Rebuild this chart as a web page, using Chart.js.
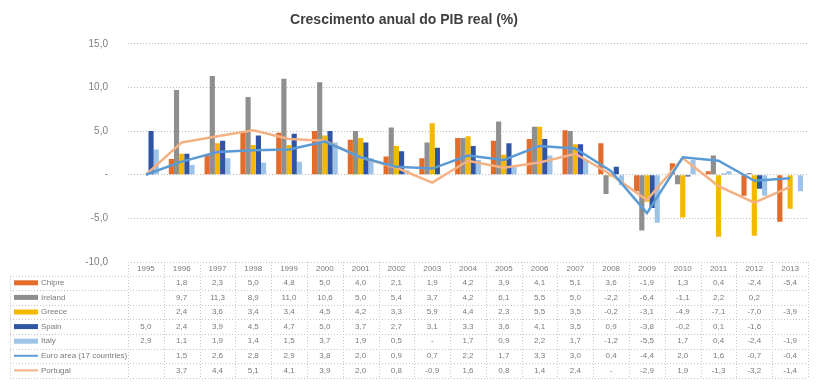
<!DOCTYPE html>
<html>
<head>
<meta charset="utf-8">
<script src="https://cdn.jsdelivr.net/npm/chart.js@4"></script>
<style>
  html, body { margin: 0; padding: 0; background: #fff; }
</style>
</head>
<body>
<canvas id="pibChart" width="827" height="390"></canvas>
<script>
var anos = ['1995','1996','1997','1998','1999','2000','2001','2002','2003','2004',
            '2005','2006','2007','2008','2009','2010','2011','2012','2013'];
var chipre   = [null, 1.8, 2.3, 5.0, 4.8, 5.0, 4.0, 2.1, 1.9, 4.2, 3.9, 4.1, 5.1, 3.6, -1.9, 1.3, 0.4, -2.4, -5.4];
var irlanda  = [null, 9.7, 11.3, 8.9, 11.0, 10.6, 5.0, 5.4, 3.7, 4.2, 6.1, 5.5, 5.0, -2.2, -6.4, -1.1, 2.2, 0.2, null];
var grecia   = [null, 2.4, 3.6, 3.4, 3.4, 4.5, 4.2, 3.3, 5.9, 4.4, 2.3, 5.5, 3.5, -0.2, -3.1, -4.9, -7.1, -7.0, -3.9];
var espanha  = [5.0, 2.4, 3.9, 4.5, 4.7, 5.0, 3.7, 2.7, 3.1, 3.3, 3.6, 4.1, 3.5, 0.9, -3.8, -0.2, 0.1, -1.6, null];
var italia   = [2.9, 1.1, 1.9, 1.4, 1.5, 3.7, 1.9, 0.5, 0, 1.7, 0.9, 2.2, 1.7, -1.2, -5.5, 1.7, 0.4, -2.4, -1.9];
var zonaEuro = [null, 1.5, 2.6, 2.8, 2.9, 3.8, 2.0, 0.9, 0.7, 2.2, 1.7, 3.3, 3.0, 0.4, -4.4, 2.0, 1.6, -0.7, -0.4];
var portugal = [null, 3.7, 4.4, 5.1, 4.1, 3.9, 2.0, 0.8, -0.9, 1.6, 0.8, 1.4, 2.4, 0, -2.9, 1.9, -1.3, -3.2, -1.4];
var yTicks   = [-10, -5, 0, 5, 10, 15];

function fmt(v) {
  if (v === null || v === undefined) return '';
  if (v === 0) return '-';
  return v.toFixed(1).replace('.', ',');
}
function semVazios(arr) {
  return arr.map(function (v) { return v === null ? 0 : v; });
}

var series = [
  { nome: 'Chipre', dados: chipre, cor: '#E46C2A', tipo: 'bar' },
  { nome: 'Ireland', dados: irlanda, cor: '#8F8F8F', tipo: 'bar' },
  { nome: 'Greece', dados: grecia, cor: '#F5B800', tipo: 'bar' },
  { nome: 'Spain', dados: espanha, cor: '#2F55A4', tipo: 'bar' },
  { nome: 'Italy', dados: italia, cor: '#9DC3E6', tipo: 'bar' },
  { nome: 'Euro area (17 countries)', dados: zonaEuro, cor: '#5B9BD5', tipo: 'line' },
  { nome: 'Portugal', dados: portugal, cor: '#F4B183', tipo: 'line' }
];

var datasets = series.map(function (s) {
  if (s.tipo === 'bar') {
    return { type: 'bar', label: s.nome, data: s.dados, backgroundColor: s.cor,
             borderWidth: 0, order: 2, barPercentage: 1.0, categoryPercentage: 0.72 };
  }
  return { type: 'line', label: s.nome, data: semVazios(s.dados), borderColor: s.cor,
           backgroundColor: s.cor, borderWidth: 2.5, pointRadius: 0, tension: 0, order: 1 };
});

var tabelaPlugin = {
  id: 'tabela',
  afterDraw: function (chart) {
    var ctx = chart.ctx;
    var area = chart.chartArea;
    var xs = chart.scales.x;
    var colW = (area.right - area.left) / anos.length;
    var topo = area.bottom;
    var hdrH = 13.5;
    var rowH = 14.6;
    var fundo = topo + hdrH + rowH * series.length;
    var esq = 10;

    ctx.save();
    ctx.strokeStyle = '#c4c4c4';
    ctx.lineWidth = 1;
    ctx.setLineDash([1, 2]);

    // linhas horizontais
    ctx.beginPath();
    ctx.moveTo(area.left, topo + 0.5);
    ctx.lineTo(area.right, topo + 0.5);
    for (var r = 0; r <= series.length; r++) {
      var yy = Math.round(topo + hdrH + r * rowH) + 0.5;
      ctx.moveTo(esq, yy);
      ctx.lineTo(area.right, yy);
    }
    // linhas verticais
    for (var c = 0; c <= anos.length; c++) {
      var xx = Math.round(area.left + c * colW) + 0.5;
      ctx.moveTo(xx, topo);
      ctx.lineTo(xx, fundo);
    }
    ctx.moveTo(esq + 0.5, topo + hdrH);
    ctx.lineTo(esq + 0.5, fundo);
    ctx.stroke();
    ctx.setLineDash([]);

    ctx.font = '8px "Liberation Sans", Arial, sans-serif';
    ctx.fillStyle = '#7a7a7a';
    ctx.textBaseline = 'middle';
    ctx.textAlign = 'center';
    anos.forEach(function (a, i) {
      ctx.fillText(a, xs.getPixelForValue(i), topo + hdrH / 2 + 0.5);
    });

    series.forEach(function (s, r) {
      var yc = topo + hdrH + r * rowH + rowH / 2;
      // chave da legenda
      if (s.tipo === 'bar') {
        ctx.fillStyle = s.cor;
        ctx.fillRect(14, yc - 2.5, 24, 5);
      } else {
        ctx.strokeStyle = s.cor;
        ctx.lineWidth = 2;
        ctx.beginPath();
        ctx.moveTo(14, yc);
        ctx.lineTo(38, yc);
        ctx.stroke();
      }
      ctx.fillStyle = '#7a7a7a';
      ctx.textAlign = 'left';
      ctx.fillText(s.nome, 41, yc);
      ctx.textAlign = 'center';
      s.dados.forEach(function (v, i) {
        ctx.fillText(fmt(v), xs.getPixelForValue(i), yc);
      });
    });
    ctx.restore();
  }
};

var ctx = document.getElementById('pibChart').getContext('2d');
var pibChart = new Chart(ctx, {
  data: { labels: anos, datasets: datasets },
  options: {
    responsive: false,
    animation: false,
    layout: { padding: { left: 0, right: 19, top: 0, bottom: 128 } },
    plugins: {
      legend: { display: false },
      tooltip: { enabled: false },
      title: {
        display: true,
        text: 'Crescimento anual do PIB real (%)',
        color: '#404040',
        font: { family: '"Liberation Sans", Arial, sans-serif', size: 14, weight: 'bold' },
        padding: { top: 12, bottom: 15 }
      }
    },
    scales: {
      x: { display: false, offset: true },
      y: {
        min: -10,
        max: 15,
        afterBuildTicks: function (axis) {
          axis.ticks = yTicks.map(function (v) { return { value: v }; });
        },
        afterFit: function (axis) { axis.width = 128; },
        border: { display: false, dash: [1, 2] },
        grid: { color: '#bdbdbd', drawTicks: false, lineWidth: 1 },
        ticks: {
          padding: 20,
          color: '#808080',
          font: { family: '"Liberation Sans", Arial, sans-serif', size: 10 },
          callback: function (v) { return v === 0 ? '-' : fmt(v); }
        }
      }
    }
  },
  plugins: [tabelaPlugin]
});
</script>
</body>
</html>
